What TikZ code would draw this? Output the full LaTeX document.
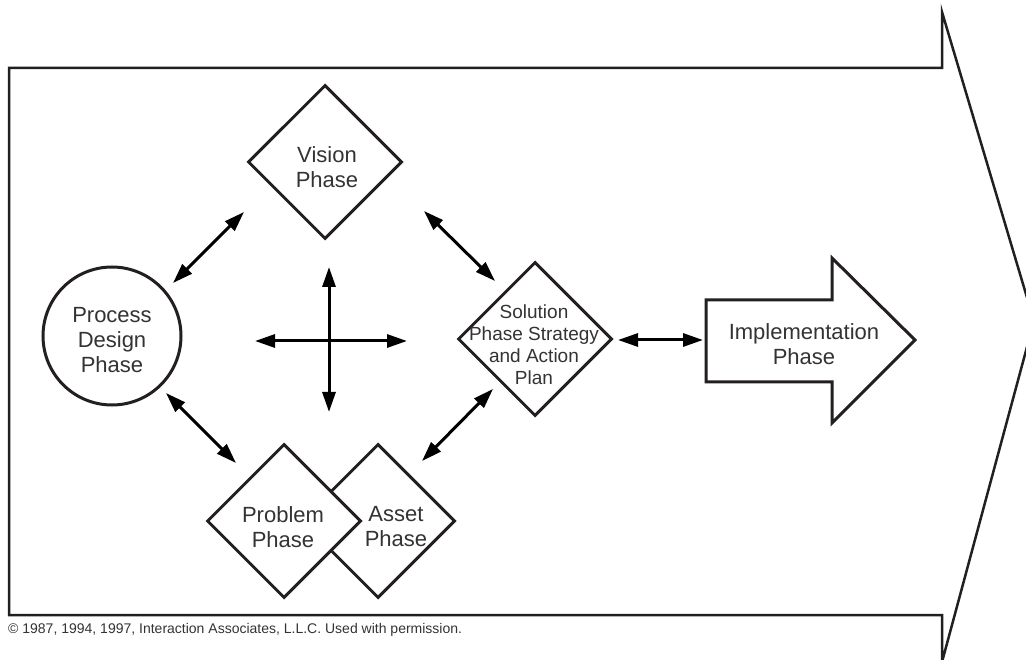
\documentclass[tikz,border=0pt]{standalone}
\usepackage{fontspec}
\setmainfont{Liberation Sans}
\usetikzlibrary{shapes.geometric,arrows.meta}
\definecolor{ink}{HTML}{231F20}
\definecolor{txt}{HTML}{333333}
\begin{document}
\begin{tikzpicture}[x=1pt,y=-1pt,
  shapeline/.style={draw=ink,line width=3pt,fill=white},
  dia/.style={shapeline,diamond,aspect=1,minimum width=154pt,minimum height=154pt,inner sep=0pt},
  lbl/.style={font=\fontsize{22}{25}\selectfont,text=txt,align=center,inner sep=0pt},
  smalllbl/.style={font=\fontsize{19}{22}\selectfont,text=txt,align=center,inner sep=0pt},
  dbl/.style={line width=3pt,draw=black,{Triangle[length=20pt,width=13pt]}-{Triangle[length=20pt,width=13pt]}},
]
\useasboundingbox (0,0) rectangle (1026,660);
% big background arrow
\draw[ink,line width=2.5pt,line join=miter] (9,68) -- (942,68) -- (942,12) -- (1034,321) -- (942,662) -- (942,615) -- (9,615) -- cycle;

% shapes
\node[shapeline,circle,minimum size=138pt,inner sep=0pt] (proc) at (112,336) {};
\node[dia] (vision) at (325,162) {};
\node[dia] (sol) at (535,339) {};
\node[dia] (asset) at (378,521) {};
\node[dia] (prob) at (284,521) {};

% implementation arrow
\draw[shapeline,line join=miter] (706,300) -- (832,300) -- (832,258) -- (915,340) -- (832,423) -- (832,382) -- (706,382) -- cycle;

% texts
\node[lbl] (proct) at (112,340) {Process\\Design\\Phase};
\node[lbl] (visiont) at (327,167) {Vision\\Phase};
\node[smalllbl] (solt) at (534,345) {Solution\\Phase Strategy\\and Action\\Plan};
\node[lbl] (probt) at (283,527) {Problem\\Phase};
\node[lbl] (assett) at (396,527) {Asset\\Phase};
\node[lbl] (impl) at (804,344) {Implementation\\Phase};

% connector end points
\coordinate (vp1) at (244,212);
\coordinate (vp2) at (173,283);
\coordinate (vs1) at (424,211);
\coordinate (vs2) at (495,281);
\coordinate (pp1) at (166,393);
\coordinate (pp2) at (236,463);
\coordinate (sa1) at (493,389);
\coordinate (sa2) at (422,461);
\coordinate (si1) at (618,340);
\coordinate (si2) at (703,340);
\coordinate (cl) at (255,341);
\coordinate (cr) at (407,341);
\coordinate (ct) at (329,267);
\coordinate (cb) at (329,412);

\draw[dbl] (vp1) -- (vp2);
\draw[dbl] (vs1) -- (vs2);
\draw[dbl] (pp1) -- (pp2);
\draw[dbl] (sa1) -- (sa2);
\draw[dbl] (si1) -- (si2);
\draw[dbl] (cl) -- (cr);
\draw[dbl] (ct) -- (cb);

% credit line
\node[anchor=base west,inner sep=0pt,font=\fontsize{14}{16}\selectfont,text=txt] (credit) at (8,633) {© 1987, 1994, 1997, Interaction Associates, L.L.C. Used with permission.};
\end{tikzpicture}
\end{document}
